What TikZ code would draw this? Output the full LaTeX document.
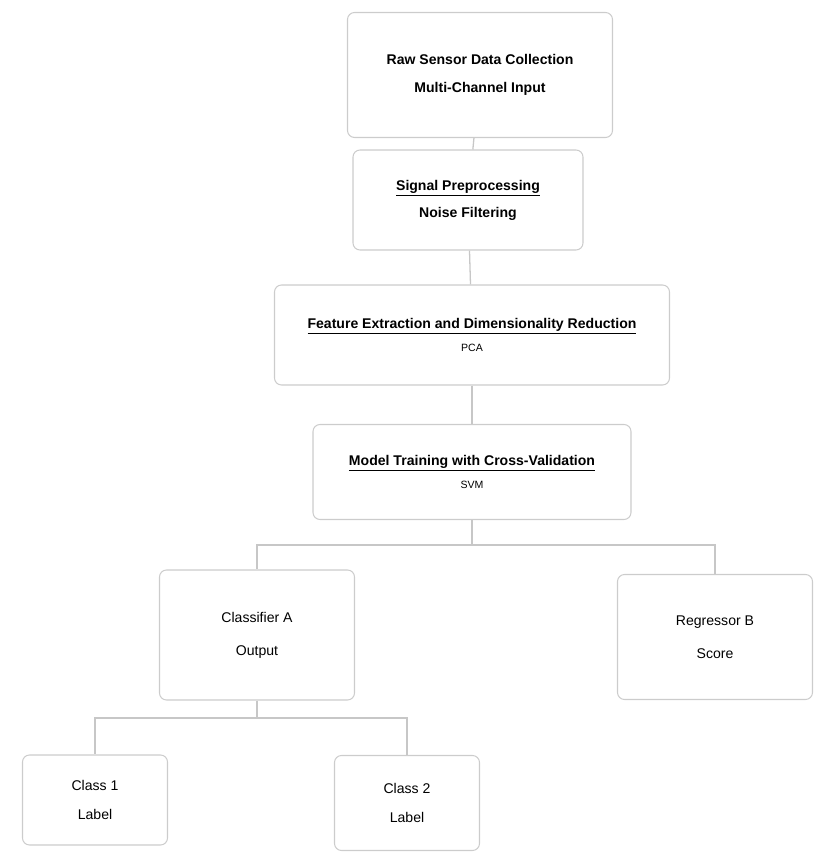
\documentclass[tikz,border=0pt]{standalone}
\usepackage{fontspec}
\setmainfont{Liberation Sans}
\usetikzlibrary{arrows.meta,positioning,calc}

\begin{document}
\begin{tikzpicture}[
  box/.style={draw=black!20,fill=white,rounded corners=6pt,line width=0.9pt,
    align=center,font=\large},
  link/.style={draw=black!22,line width=1.1pt}]
\useasboundingbox (0,0) rectangle (24.87,25.59);
\node[box,minimum width=7.95cm,minimum height=3.75cm] (src) at (14.4,23.34)
  {\textbf{Raw Sensor Data Collection}\\[10pt]\textbf{Multi-Channel Input}};
\node[box,minimum width=6.9cm,minimum height=3.0cm] (prep) at (14.04,19.59)
  {\underline{\textbf{Signal Preprocessing}}\\[9pt]\textbf{Noise Filtering}};
\node[box,minimum width=11.85cm,minimum height=3.0cm] (feat) at (14.16,15.54)
  {\underline{\textbf{Feature Extraction and Dimensionality Reduction}}\\[6pt]{\small PCA}};
\node[box,minimum width=9.54cm,minimum height=2.85cm] (model) at (14.16,11.43)
  {\underline{\textbf{Model Training with Cross-Validation}}\\[6pt]{\small SVM}};
\node[box,minimum width=5.85cm,minimum height=3.9cm] (clf) at (7.71,6.54)
  {Classifier A\\[14pt]Output};
\node[box,minimum width=5.85cm,minimum height=3.75cm] (reg) at (21.45,6.48)
  {Regressor B\\[14pt]Score};
\node[box,minimum width=4.35cm,minimum height=2.7cm] (cls1) at (2.85,1.59)
  {Class 1\\[11pt]Label};
\node[box,minimum width=4.35cm,minimum height=2.85cm] (cls2) at (12.21,1.5)
  {Class 2\\[11pt]Label};
\coordinate (fork) at (14.16,9.24);
\coordinate (fork2) at (7.71,4.05);
\draw[link] (src) -- (prep);
\draw[link] (prep) -- (feat);
\draw[link] (feat) -- (model);
\draw[link] (model) -- (fork);
\foreach \child in {clf,reg} {
  \draw[link] (fork) -| (\child);
}
\draw[link] (clf) -- (fork2);
\foreach \child in {cls1,cls2} {
  \draw[link] (fork2) -| (\child);
}
\end{tikzpicture}
\end{document}
